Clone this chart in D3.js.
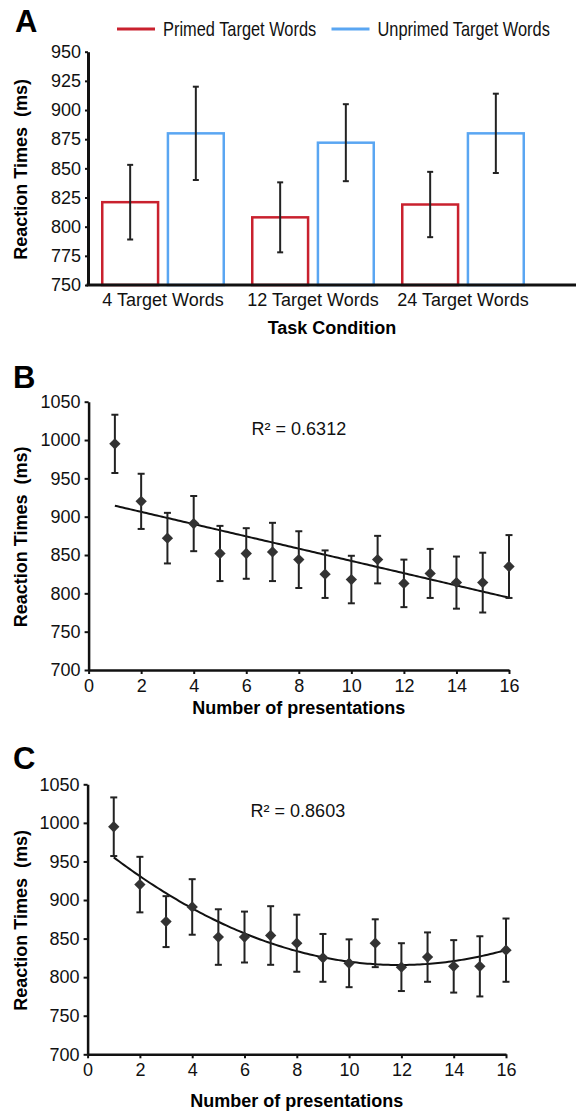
<!DOCTYPE html>
<html>
<head>
<meta charset="utf-8">
<script src="https://cdn.jsdelivr.net/npm/d3@7"></script>
<style>
  body { margin: 0; background: #fff; }
  svg { display: block; font-family: "Liberation Sans", Arial, sans-serif; }
  .tick text { font-size: 18px; fill: #111; }
  .axis path, .axis line { stroke: #111; }
</style>
</head>
<body>
<div id="chart"></div>
<script>
// Panel A data
var conditions = ["4 Target Words", "12 Target Words", "24 Target Words"];
var seriesNames = ["Primed Target Words", "Unprimed Target Words"];
var primedMeans = [821, 808, 819];
var primedErr = [32, 30, 28];
var unprimedMeans = [880, 872, 880];
var unprimedErr = [40, 33, 34];
var barTicks = [750, 775, 800, 825, 850, 875, 900, 925, 950];

// Panels B and C data (same observations)
var presentations = [1, 2, 3, 4, 5, 6, 7, 8, 9, 10, 11, 12, 13, 14, 15, 16];
var rtMeans = [995, 920, 872, 891, 852, 852, 854, 844, 825, 818, 844, 813, 826, 814, 814, 835];
var rtErr = [38, 36, 33, 36, 36, 33, 38, 37, 31, 31, 31, 31, 32, 34, 39, 41];
var rtTicks = [700, 750, 800, 850, 900, 950, 1000, 1050];
var presTicks = [0, 2, 4, 6, 8, 10, 12, 14, 16];

var colors = { primed: "#c9212e", unprimed: "#5aa6f2" };

var svg = d3.select("#chart")
    .append("svg")
    .attr("width", 579)
    .attr("height", 1112);

// ---------- Panel A ----------
var a = { left: 88, right: 538, top: 51.7, bottom: 285 };

var xGroup = d3.scaleBand()
    .domain(conditions)
    .range([a.left, a.right])
    .paddingInner(0.19)
    .paddingOuter(0.095);

var xSeries = d3.scaleBand()
    .domain(["primed", "unprimed"])
    .range([0, xGroup.bandwidth()])
    .paddingInner(0.15);

var yA = d3.scaleLinear()
    .domain([750, 950])
    .range([a.bottom, a.top]);

var barData = [];
conditions.forEach(function (c, i) {
    barData.push({ cond: c, key: "primed", mean: primedMeans[i], err: primedErr[i] });
    barData.push({ cond: c, key: "unprimed", mean: unprimedMeans[i], err: unprimedErr[i] });
});

var gA = svg.append("g");

gA.selectAll("rect.bar")
    .data(barData)
    .enter()
    .append("rect")
    .attr("class", "bar")
    .attr("x", d => xGroup(d.cond) + xSeries(d.key))
    .attr("y", d => yA(d.mean))
    .attr("width", xSeries.bandwidth())
    .attr("height", d => yA(750) - yA(d.mean))
    .attr("fill", "#fff")
    .attr("stroke", d => colors[d.key])
    .attr("stroke-width", 2.5);

var errA = gA.selectAll("g.err")
    .data(barData)
    .enter()
    .append("g")
    .attr("class", "err")
    .attr("stroke", "#222")
    .attr("stroke-width", 2);
errA.append("line")
    .attr("x1", d => xGroup(d.cond) + xSeries(d.key) + xSeries.bandwidth() / 2)
    .attr("x2", d => xGroup(d.cond) + xSeries(d.key) + xSeries.bandwidth() / 2)
    .attr("y1", d => yA(d.mean + d.err))
    .attr("y2", d => yA(d.mean - d.err));
[1, -1].forEach(function (s) {
    errA.append("line")
        .attr("x1", d => xGroup(d.cond) + xSeries(d.key) + xSeries.bandwidth() / 2 - 3)
        .attr("x2", d => xGroup(d.cond) + xSeries(d.key) + xSeries.bandwidth() / 2 + 3)
        .attr("y1", d => yA(d.mean + s * d.err))
        .attr("y2", d => yA(d.mean + s * d.err));
});

// y axis A
gA.append("g")
    .attr("class", "axis")
    .attr("transform", `translate(${a.left},0)`)
    .call(d3.axisLeft(yA).tickValues(barTicks).tickFormat(d3.format("d")).tickSize(3).tickSizeOuter(0).tickPadding(4))
    .call(g => g.select(".domain").attr("stroke-width", 3))
    .call(g => g.selectAll(".tick line").attr("stroke-width", 2));

// x axis A (no ticks, long baseline)
var xAxisA = gA.append("g")
    .attr("class", "axis")
    .attr("transform", `translate(0,${a.bottom})`)
    .call(d3.axisBottom(xGroup).tickSize(0).tickPadding(8));
xAxisA.select(".domain").remove();
xAxisA.append("line")
    .attr("x1", a.left - 1.5)
    .attr("x2", 576)
    .attr("stroke", "#111")
    .attr("stroke-width", 3);

gA.append("text")
    .attr("x", 332)
    .attr("y", 334)
    .attr("text-anchor", "middle")
    .attr("font-weight", "bold")
    .attr("font-size", 18)
    .text("Task Condition");

gA.append("text")
    .attr("transform", `translate(27,${(a.top + a.bottom) / 2 + 1}) rotate(-90)`)
    .attr("text-anchor", "middle")
    .attr("font-weight", "bold")
    .attr("font-size", 18)
    .style("white-space", "pre")
    .text("Reaction Times  (ms)");

// legend (condensed lettering, squeezed horizontally)
var legend = gA.selectAll("g.legend")
    .data([{ key: "primed", name: seriesNames[0], x: 117 }, { key: "unprimed", name: seriesNames[1], x: 331.5 }])
    .enter()
    .append("g")
    .attr("class", "legend")
    .attr("transform", d => `translate(${d.x},29)`);
legend.append("line")
    .attr("x1", 0)
    .attr("x2", 38)
    .attr("stroke", d => colors[d.key])
    .attr("stroke-width", 3);
legend.append("text")
    .attr("transform", "translate(46,7) scale(0.82,1)")
    .attr("font-size", 20)
    .attr("fill", "#111")
    .text(d => d.name);

svg.append("text")
    .attr("x", 15)
    .attr("y", 32)
    .attr("font-weight", "bold")
    .attr("font-size", 31)
    .text("A");

// ---------- Panels B and C ----------
function linearFit(xs, ys) {
    var mx = d3.mean(xs), my = d3.mean(ys);
    var sxy = d3.sum(xs, (x, i) => (x - mx) * (ys[i] - my));
    var sxx = d3.sum(xs, x => (x - mx) * (x - mx));
    var b = sxy / sxx;
    return x => my + b * (x - mx);
}

function quadFit(xs, ys) {
    // normal equations for y = c0 + c1 x + c2 x^2
    var s = [0, 0, 0, 0, 0], t = [0, 0, 0];
    xs.forEach(function (x, i) {
        for (var k = 0; k < 5; k++) s[k] += Math.pow(x, k);
        for (var k2 = 0; k2 < 3; k2++) t[k2] += ys[i] * Math.pow(x, k2);
    });
    var m = [[s[0], s[1], s[2], t[0]], [s[1], s[2], s[3], t[1]], [s[2], s[3], s[4], t[2]]];
    for (var i = 0; i < 3; i++) {
        for (var j = i + 1; j < 3; j++) {
            var f = m[j][i] / m[i][i];
            for (var k3 = i; k3 < 4; k3++) m[j][k3] -= f * m[i][k3];
        }
    }
    var c = [0, 0, 0];
    for (var r = 2; r >= 0; r--) {
        var v = m[r][3];
        for (var q = r + 1; q < 3; q++) v -= m[r][q] * c[q];
        c[r] = v / m[r][r];
    }
    return x => c[0] + c[1] * x + c[2] * x * x;
}

function drawScatter(opts) {
    var g = svg.append("g");
    var x = d3.scaleLinear().domain([0, 16]).range([opts.left, opts.right]);
    var y = d3.scaleLinear().domain([700, 1050]).range([opts.bottom, opts.top]);

    g.append("g")
        .attr("class", "axis")
        .attr("transform", `translate(${opts.left},0)`)
        .call(d3.axisLeft(y).tickValues(rtTicks).tickFormat(d3.format("d")).tickSize(4).tickSizeOuter(0).tickPadding(4))
        .call(g => g.select(".domain").attr("stroke-width", 2.5))
        .call(g => g.selectAll(".tick line").attr("stroke-width", 2));

    g.append("g")
        .attr("class", "axis")
        .attr("transform", `translate(0,${opts.bottom})`)
        .call(d3.axisBottom(x).tickValues(presTicks).tickSize(4).tickSizeOuter(0).tickPadding(5))
        .call(g => g.select(".domain").attr("stroke-width", 2.5))
        .call(g => g.selectAll(".tick line").attr("stroke-width", 2));

    // trend line
    var fx = d3.range(1, 16.001, 0.1);
    g.append("path")
        .datum(fx)
        .attr("fill", "none")
        .attr("stroke", "#111")
        .attr("stroke-width", 2)
        .attr("d", d3.line().x(d => x(d)).y(d => y(opts.fit(d))));

    var pts = presentations.map((p, i) => ({ x: p, y: rtMeans[i], e: rtErr[i] }));
    var eg = g.selectAll("g.err")
        .data(pts)
        .enter()
        .append("g")
        .attr("stroke", "#222")
        .attr("stroke-width", 2);
    eg.append("line")
        .attr("x1", d => x(d.x)).attr("x2", d => x(d.x))
        .attr("y1", d => y(d.y + d.e)).attr("y2", d => y(d.y - d.e));
    [1, -1].forEach(function (s) {
        eg.append("line")
            .attr("x1", d => x(d.x) - 3.5).attr("x2", d => x(d.x) + 3.5)
            .attr("y1", d => y(d.y + s * d.e)).attr("y2", d => y(d.y + s * d.e));
    });

    g.selectAll("path.pt")
        .data(pts)
        .enter()
        .append("path")
        .attr("class", "pt")
        .attr("d", d3.symbol(d3.symbolSquare, 64))
        .attr("transform", d => `translate(${x(d.x)},${y(d.y)}) rotate(45)`)
        .attr("fill", "#333");

    g.append("text")
        .attr("x", opts.left + 163)
        .attr("y", opts.top + 33)
        .attr("font-size", 18)
        .attr("fill", "#111")
        .text(opts.r2);

    g.append("text")
        .attr("x", (opts.left + opts.right) / 2)
        .attr("y", opts.xLabelY)
        .attr("text-anchor", "middle")
        .attr("font-weight", "bold")
        .attr("font-size", 18)
        .text("Number of presentations");

    g.append("text")
        .attr("transform", `translate(27,${(opts.top + opts.bottom) / 2 + 1}) rotate(-90)`)
        .attr("text-anchor", "middle")
        .attr("font-weight", "bold")
        .attr("font-size", 18)
        .style("white-space", "pre")
        .text("Reaction Times  (ms)");

    svg.append("text")
        .attr("x", 13)
        .attr("y", opts.letterY)
        .attr("font-weight", "bold")
        .attr("font-size", 31)
        .text(opts.letter);
}

drawScatter({
    letter: "B", letterY: 388,
    left: 88.6, right: 509, top: 401.7, bottom: 670,
    xLabelY: 714, r2: "R² = 0.6312",
    fit: linearFit(presentations, rtMeans)
});

drawScatter({
    letter: "C", letterY: 769,
    left: 87.6, right: 506, top: 784.3, bottom: 1054.3,
    xLabelY: 1107, r2: "R² = 0.8603",
    fit: quadFit(presentations, rtMeans)
});
</script>
</body>
</html>
